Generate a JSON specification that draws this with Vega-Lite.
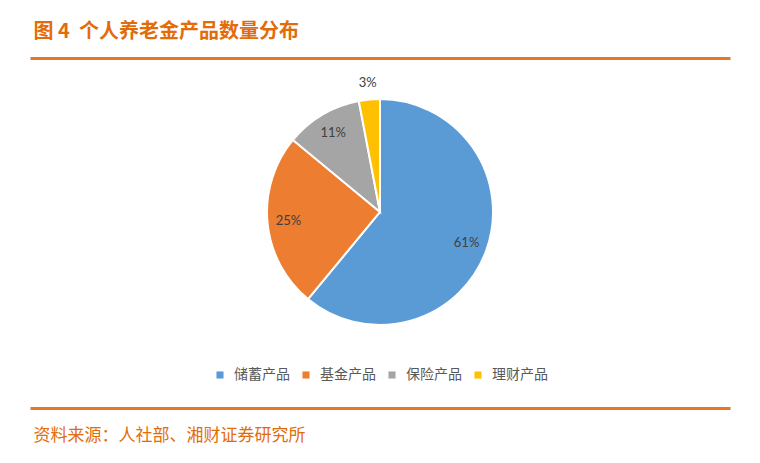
{
  "$schema": "https://vega.github.io/schema/vega-lite/v6.json",
  "autosize": {"type": "none"},
  "width": 700,
  "height": 350,
  "padding": {"left": 30, "top": 58, "right": 30, "bottom": 55},
  "background": "white",
  "config": {"view": {"stroke": null}},
  "data": {
    "values": [
      {"product": "储蓄产品", "share": 61, "label": "61%"},
      {"product": "基金产品", "share": 25, "label": "25%"},
      {"product": "保险产品", "share": 11, "label": "11%"},
      {"product": "理财产品", "share": 3, "label": "3%"}
    ]
  },
  "layer": [
    {
      "mark": {"type": "arc", "outerRadius": 113, "stroke": "white", "strokeWidth": 2, "yOffset": -21},
      "encoding": {
        "theta": {"field": "share", "type": "quantitative", "stack": true},
        "order": {"field": "share", "sort": "descending"},
        "color": {
          "field": "product",
          "type": "nominal",
          "sort": ["储蓄产品", "基金产品", "保险产品", "理财产品"],
          "scale": {"domain": ["储蓄产品", "基金产品", "保险产品", "理财产品"], "range": ["#5B9BD5", "#ED7D31", "#A5A5A5", "#FFC000"]},
          "legend": {
            "title": null,
            "orient": "none",
            "direction": "horizontal",
            "legendX": 183,
            "legendY": 310,
            "symbolType": "square",
            "symbolSize": 50,
            "symbolStrokeWidth": 0,
            "labelFont": "Noto Sans CJK SC",
            "labelFontSize": 14,
            "labelColor": "#595959",
            "labelOffset": 7,
            "columnPadding": 9
          }
        }
      }
    },
    {
      "mark": {"type": "text", "radius": 92, "yOffset": -21, "font": "Lato", "fontSize": 13, "fill": "#404040"},
      "encoding": {
        "theta": {"field": "share", "type": "quantitative", "stack": true},
        "order": {"field": "share", "sort": "descending"},
        "text": {"condition": {"test": "datum.share >= 5", "field": "label"}, "value": ""}
      }
    },
    {
      "mark": {"type": "text", "radius": 130, "yOffset": -21, "font": "Lato", "fontSize": 13, "fill": "#404040"},
      "encoding": {
        "theta": {"field": "share", "type": "quantitative", "stack": true},
        "order": {"field": "share", "sort": "descending"},
        "text": {"condition": {"test": "datum.share < 5", "field": "label"}, "value": ""}
      }
    },
    {
      "mark": {"type": "point", "opacity": 0},
      "encoding": {
        "x": {
          "datum": 0,
          "type": "quantitative",
          "scale": {"domain": [0, 1]},
          "axis": {
            "orient": "top",
            "title": "图 4\u00a0\u00a0个人养老金产品数量分布",
            "titleAnchor": "start",
            "titleAlign": "left",
            "titleX": 3,
            "titleFont": "Noto Sans CJK SC",
            "titleFontSize": 20,
            "titleFontWeight": "bold",
            "titleColor": "#E36C0A",
            "titlePadding": 17,
            "labels": false,
            "ticks": false,
            "grid": false,
            "domainColor": "#E87722",
            "domainWidth": 3
          }
        }
      }
    },
    {
      "mark": {"type": "point", "opacity": 0},
      "encoding": {
        "x": {
          "datum": 0,
          "type": "quantitative",
          "scale": {"domain": [0, 1]},
          "axis": {
            "orient": "bottom",
            "title": "资料来源：人社部、湘财证券研究所",
            "titleAnchor": "start",
            "titleAlign": "left",
            "titleX": 3,
            "titleFont": "Noto Sans CJK SC",
            "titleFontSize": 17,
            "titleFontWeight": "normal",
            "titleColor": "#E36C0A",
            "titlePadding": 19,
            "labels": false,
            "ticks": false,
            "grid": false,
            "domainColor": "#E87722",
            "domainWidth": 3
          }
        }
      }
    }
  ],
  "resolve": {"axis": {"x": "independent"}}
}
